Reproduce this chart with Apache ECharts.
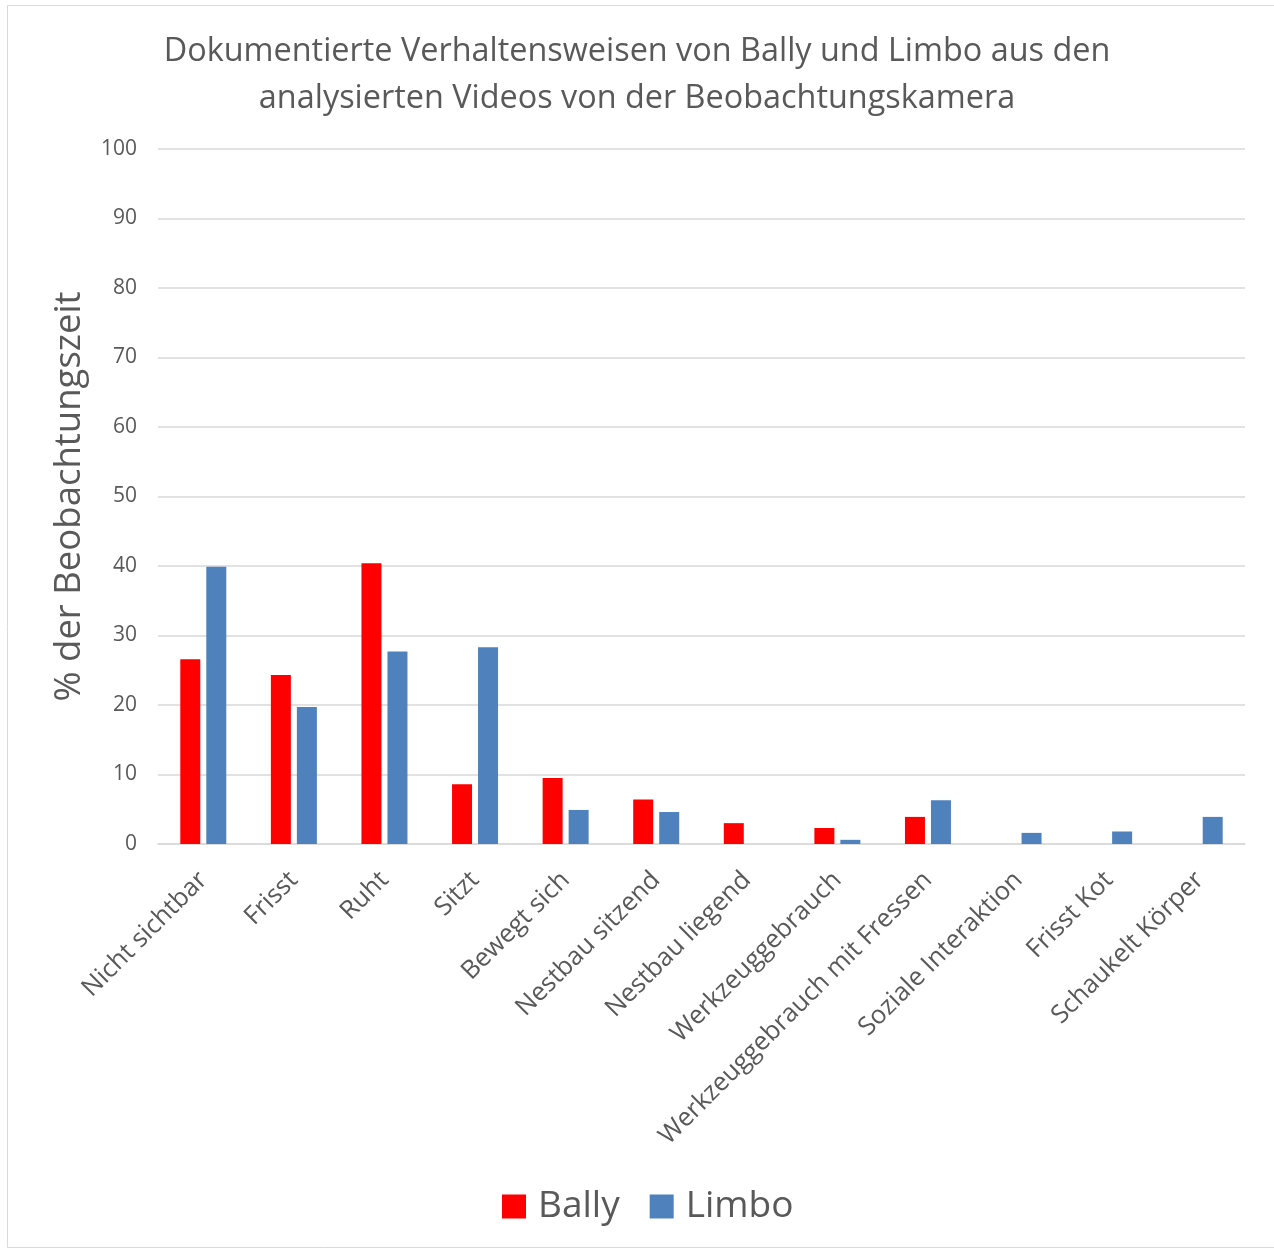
<!DOCTYPE html>
<html><head><meta charset="utf-8">
<script src="https://cdn.jsdelivr.net/npm/echarts@6/dist/echarts.min.js"></script>
<style>html,body{margin:0;padding:0;background:#fff}#c{width:1274px;height:1249px}</style>
</head><body><div id="c"></div>
<script>
var categories = ["Nicht sichtbar","Frisst","Ruht","Sitzt","Bewegt sich","Nestbau sitzend","Nestbau liegend","Werkzeuggebrauch","Werkzeuggebrauch mit Fressen","Soziale Interaktion","Frisst Kot","Schaukelt Körper"];
var bally = [26.6, 24.3, 40.4, 8.6, 9.5, 6.4, 3.0, 2.3, 3.9, 0, 0, 0];
var limbo = [39.9, 19.7, 27.7, 28.3, 4.9, 4.6, 0, 0.6, 6.3, 1.6, 1.8, 3.9];
var seriesNames = ["Bally","Limbo"];
var titleText = "Dokumentierte Verhaltensweisen von Bally und Limbo aus den\nanalysierten Videos von der Beobachtungskamera";
var yName = "% der Beobachtungszeit";

var font = "'Open Sans', sans-serif";
var chart = echarts.init(document.getElementById('c'), null, {renderer:'canvas'});
chart.setOption({
  animation:false,
  backgroundColor:'#fff',
  graphic:[{type:'rect', shape:{x:7.5,y:5.5,width:1300,height:1242}, style:{fill:'none', stroke:'#d9d9d9', lineWidth:1}}],
  title:{text:titleText, left:'center', top:23, textStyle:{fontFamily:font, fontWeight:'normal', fontSize:32.4, color:'#595959', lineHeight:47}},
  legend:{bottom:19, left:497, itemWidth:24, itemHeight:24, itemGap:30, icon:'rect',
    textStyle:{fontFamily:font, fontSize:37, color:'#595959', padding:[0,0,0,7]}, data:seriesNames},
  grid:{left:158, right:29, top:149, bottom:405, containLabel:false},
  xAxis:{type:'category', data:categories,
    axisLine:{show:true, lineStyle:{color:'#d9d9d9', width:1.5}},
    axisTick:{show:false},
    axisLabel:{rotate:45, interval:0, fontFamily:font, fontSize:25.5, color:'#595959', margin:32}},
  yAxis:{type:'value', min:0, max:100, interval:10,
    name:yName, nameLocation:'middle', nameGap:70, nameRotate:90,
    nameTextStyle:{fontFamily:font, fontSize:36.5, color:'#595959'},
    axisLine:{show:false}, axisTick:{show:false},
    splitLine:{lineStyle:{color:'#d9d9d9', width:1.5}},
    axisLabel:{fontFamily:font, fontSize:21, color:'#595959', margin:21}},
  series:[
    {name:seriesNames[0], type:'bar', data:bally, barWidth:20, barGap:'30%', itemStyle:{color:'#ff0000'}},
    {name:seriesNames[1], type:'bar', data:limbo, barWidth:20, itemStyle:{color:'#4f81bd'}}
  ]
});
</script></body></html>
